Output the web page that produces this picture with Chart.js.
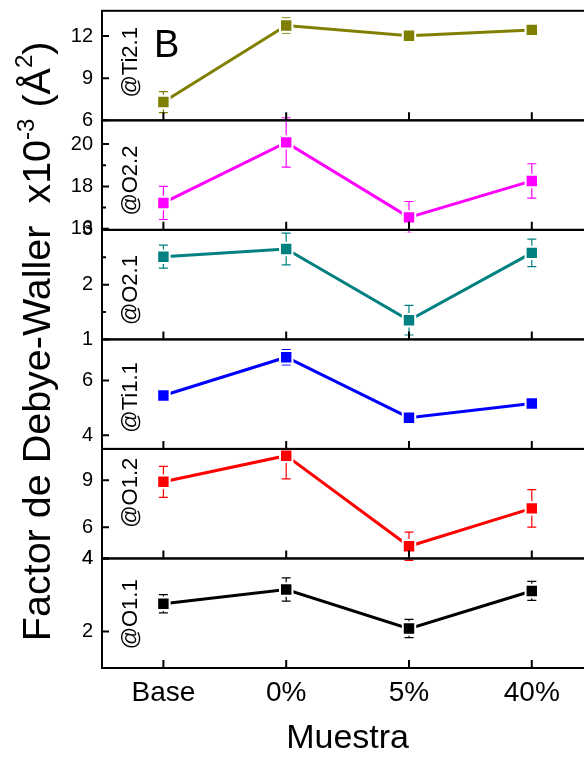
<!DOCTYPE html>
<html>
<head>
<meta charset="utf-8">
<script src="https://cdn.jsdelivr.net/npm/chart.js@4.4.1/dist/chart.umd.min.js"></script>
<style>
  html, body { margin: 0; padding: 0; background: #fff; overflow: hidden; }
  #wrap { width: 584px; height: 759px; overflow: hidden; position: relative; background: #fff; }
  #wrap canvas { position: absolute; left: 0; top: 0; }
</style>
</head>
<body>
<div id="wrap"><canvas id="dw" width="604" height="759"></canvas></div>
<script>
// Muestras en el eje x
const muestras = ['Base', '0%', '5%', '40%'];

// Factor de Debye-Waller (x10^-3 Å^2) por sitio, con su incertidumbre
const ti21    = [7.3, 12.75, 12.03, 12.44];
const ti21Err = [0.75, 0.55, 0.4, 0.4];
const o22     = [17.22, 20.08, 16.54, 18.26];
const o22Err  = [0.78, 1.17, 0.75, 0.81];
const o21     = [2.51, 2.65, 1.35, 2.58];
const o21Err  = [0.21, 0.29, 0.27, 0.25];
const ti11    = [5.45, 6.85, 4.64, 5.16];
const ti11Err = [0.1, 0.28, 0.1, 0.1];
const o12     = [8.9, 10.57, 4.78, 7.2];
const o12Err  = [0.99, 1.48, 0.9, 1.2];
const o11     = [2.76, 3.15, 2.08, 3.11];
const o11Err  = [0.25, 0.32, 0.25, 0.26];

// Etiquetas de cada capa
const sitios = ['@Ti2.1', '@O2.2', '@O2.1', '@Ti1.1', '@O1.2', '@O1.1'];

// Marcas del eje y de cada capa
const ticksMayores = [[6, 9, 12], [16, 18, 20], [1, 2, 3], [4, 6], [4, 6, 9], [2, 4]];
const ticksMenores = [[], [17, 19], [1.5, 2.5], [], [], []];

// Estilo y rango de cada capa (de arriba hacia abajo)
const capas = [
  { datos: ti21, err: ti21Err, color: '#808000', min: 6,     max: 13.8,  etqY: 0.47 },
  { datos: o22,  err: o22Err,  color: '#FF00FF', min: 15.95, max: 21.12, etqY: 0.55 },
  { datos: o21,  err: o21Err,  color: '#008080', min: 1,     max: 3,     etqY: 0.55 },
  { datos: ti11, err: ti11Err, color: '#0000FF', min: 3.5,   max: 7.5,   etqY: 0.53 },
  { datos: o12,  err: o12Err,  color: '#FF0000', min: 4,     max: 11,    etqY: 0.40 },
  { datos: o11,  err: o11Err,  color: '#000000', min: 1,     max: 4,     etqY: 0.51 }
];

const FUENTE = '"Liberation Sans", Arial, Helvetica, sans-serif';
Chart.defaults.font.family = FUENTE;
Chart.defaults.color = '#000';

// Sin relleno extra por etiquetas en los bordes
function sinRelleno(s) {
  s.paddingTop = 0; s.paddingBottom = 0; s.paddingLeft = 0; s.paddingRight = 0;
}

const scales = {
  x: {
    type: 'category',
    position: 'bottom',
    offset: true,
    grid: { display: false, drawTicks: false },
    border: { display: false },
    ticks: { font: { size: 28 }, color: '#000', padding: 8, maxRotation: 0 },
    afterFit: s => { s.height = 91; sinRelleno(s); }
  }
};

const datasets = [];
capas.forEach((c, i) => {
  const id = 'y' + i;
  scales[id] = {
    type: 'linear',
    position: 'left',
    stack: 'capas',
    stackWeight: 1,
    weight: capas.length - i,
    offset: false,
    min: c.min,
    max: c.max,
    grid: { display: false, drawTicks: false },
    border: { display: false },
    afterBuildTicks: s => { s.ticks = ticksMayores[i].map(v => ({ value: v })); },
    afterFit: s => { s.width = 102; sinRelleno(s); },
    ticks: {
      font: { size: 20 },
      color: '#000',
      padding: 9,
      autoSkip: false,
      callback: v => String(v)
    }
  };
  datasets.push({
    label: sitios[i],
    yAxisID: id,
    data: c.datos,
    borderColor: c.color,
    backgroundColor: c.color,
    borderWidth: 3,
    pointStyle: 'rect',
    pointRadius: 8.8,
    pointBackgroundColor: c.color,
    pointBorderColor: '#fff',
    pointBorderWidth: 2,
    tension: 0,
    clip: false
  });
});

// Marcos, marcas, barras de error y textos del gráfico apilado
const decoracion = {
  id: 'decoracion',
  beforeDatasetsDraw(chart) {
    const ctx = chart.ctx;
    const xs = chart.scales.x;
    const { left, right } = chart.chartArea;
    capas.forEach((c, i) => {
      const ys = chart.scales['y' + i];
      ctx.save();
      ctx.beginPath();
      ctx.rect(left - 10, ys.top - 3, right - left + 20, ys.bottom - ys.top + 6);
      ctx.clip();
      ctx.strokeStyle = c.color;
      ctx.lineWidth = 1.2;
      c.datos.forEach((v, k) => {
        const x = xs.getPixelForValue(k);
        const y1 = ys.getPixelForValue(v + c.err[k]);
        const y2 = ys.getPixelForValue(v - c.err[k]);
        ctx.beginPath();
        ctx.moveTo(x, y1); ctx.lineTo(x, y2);
        ctx.moveTo(x - 4.5, y1); ctx.lineTo(x + 4.5, y1);
        ctx.moveTo(x - 4.5, y2); ctx.lineTo(x + 4.5, y2);
        ctx.stroke();
      });
      ctx.restore();
    });
  },
  afterDraw(chart) {
    const ctx = chart.ctx;
    const xs = chart.scales.x;
    const { left, right, top, bottom } = chart.chartArea;
    ctx.save();
    ctx.strokeStyle = '#000';
    ctx.fillStyle = '#000';
    capas.forEach((c, i) => {
      const ys = chart.scales['y' + i];
      // marco
      ctx.lineWidth = 2;
      ctx.strokeRect(left, ys.top, right - left, ys.bottom - ys.top);
      // marcas del eje y hacia dentro
      ctx.beginPath();
      ticksMayores[i].forEach(v => {
        const y = ys.getPixelForValue(v);
        ctx.moveTo(left, y); ctx.lineTo(left + 7, y);
      });
      ticksMenores[i].forEach(v => {
        const y = ys.getPixelForValue(v);
        ctx.moveTo(left, y); ctx.lineTo(left + 4, y);
      });
      // marcas del eje x en la base de cada capa
      muestras.forEach((m, k) => {
        const x = xs.getPixelForValue(k);
        ctx.moveTo(x, ys.bottom); ctx.lineTo(x, ys.bottom - 8);
      });
      ctx.stroke();
      // etiqueta del sitio, vertical
      ctx.save();
      ctx.translate(131, ys.top + (ys.bottom - ys.top) * c.etqY);
      ctx.rotate(-Math.PI / 2);
      ctx.font = '22px ' + FUENTE;
      ctx.textAlign = 'center';
      ctx.textBaseline = 'middle';
      ctx.fillText(sitios[i], 0, 0);
      ctx.restore();
    });

    // letra del panel
    ctx.font = '38px ' + FUENTE;
    ctx.textAlign = 'left';
    ctx.textBaseline = 'alphabetic';
    ctx.fillText('B', 154, 57);

    // título del eje x
    ctx.font = '34px ' + FUENTE;
    ctx.textAlign = 'center';
    ctx.textBaseline = 'middle';
    ctx.fillText('Muestra', (left + right) / 2, 739);

    // título del eje y con superíndices
    const partes = [
      { t: 'Factor de Debye-Waller  x10', s: 39.5, sube: 0 },
      { t: '-3', s: 24, sube: 16 },
      { t: ' (Å', s: 39.5, sube: 0 },
      { t: '2', s: 24, sube: 18 },
      { t: ')', s: 39.5, sube: 0 }
    ];
    let ancho = 0;
    partes.forEach(p => { ctx.font = p.s + 'px ' + FUENTE; p.w = ctx.measureText(p.t).width; ancho += p.w; });
    ctx.save();
    ctx.translate(50, (top + bottom) / 2 + 2);
    ctx.rotate(-Math.PI / 2);
    ctx.textAlign = 'left';
    ctx.textBaseline = 'alphabetic';
    let px = -ancho / 2;
    partes.forEach(p => {
      ctx.font = p.s + 'px ' + FUENTE;
      ctx.fillText(p.t, px, -p.sube);
      px += p.w;
    });
    ctx.restore();
    ctx.restore();
  }
};

new Chart(document.getElementById('dw'), {
  type: 'line',
  data: { labels: muestras, datasets },
  options: {
    responsive: false,
    animation: false,
    devicePixelRatio: 1,
    events: [],
    layout: { padding: { top: 9, right: 6, left: 0, bottom: 0 } },
    plugins: { legend: { display: false }, tooltip: { enabled: false } },
    scales
  },
  plugins: [decoracion]
});
</script>
</body>
</html>
